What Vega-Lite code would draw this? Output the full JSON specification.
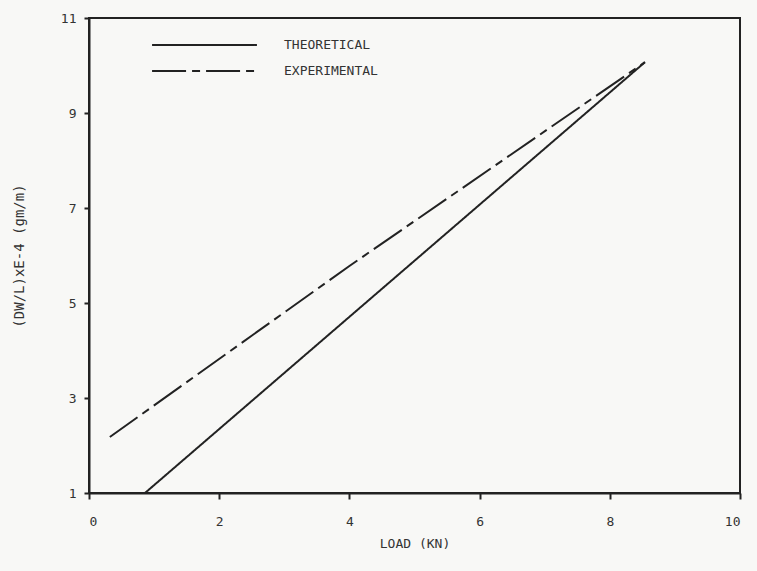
{
  "$schema": "https://vega.github.io/schema/vega-lite/v6.json",
  "width": 651,
  "height": 475,
  "autosize": "none",
  "padding": {"left": 89, "top": 18, "right": 17, "bottom": 78},
  "background": "#f8f8f6",
  "config": {
    "view": {"stroke": "#222", "strokeWidth": 2},
    "font": "DejaVu Sans Mono"
  },
  "data": {
    "values": [
      {"series": "THEORETICAL", "load": 0.86, "dw": 1.0},
      {"series": "THEORETICAL", "load": 8.54, "dw": 10.07},
      {"series": "EXPERIMENTAL", "load": 0.32, "dw": 2.18},
      {"series": "EXPERIMENTAL", "load": 4.0, "dw": 5.78},
      {"series": "EXPERIMENTAL", "load": 8.54, "dw": 10.07}
    ]
  },
  "mark": {"type": "line", "color": "#222", "strokeWidth": 2},
  "encoding": {
    "x": {
      "field": "load", "type": "quantitative",
      "scale": {"domain": [0, 10], "nice": false},
      "axis": {
        "title": "LOAD (KN)", "values": [0, 2, 4, 6, 8, 10], "grid": false,
        "domainColor": "#222", "domainWidth": 2, "tickColor": "#222", "tickWidth": 2,
        "tickSize": 6, "labelPadding": 16, "labelFontSize": 13, "labelColor": "#333",
        "titleFontSize": 13, "titleFontWeight": "normal", "titleColor": "#333", "titlePadding": 9
      }
    },
    "y": {
      "field": "dw", "type": "quantitative",
      "scale": {"domain": [1, 11], "nice": false, "zero": false},
      "axis": {
        "title": "(DW/L)xE-4 (gm/m)", "values": [1, 3, 5, 7, 9, 11], "grid": false,
        "domainColor": "#222", "domainWidth": 2, "tickColor": "#222", "tickWidth": 2,
        "tickSize": 5, "labelPadding": 8, "labelFontSize": 13, "labelColor": "#333",
        "titleFontSize": 14, "titleFontWeight": "normal", "titleColor": "#333", "titlePadding": 34
      }
    },
    "strokeDash": {
      "field": "series", "type": "nominal",
      "scale": {"domain": ["THEORETICAL", "EXPERIMENTAL"], "range": [[1, 0], [34, 6, 8, 6]]},
      "legend": {
        "title": null, "orient": "none", "legendX": 62, "legendY": 17,
        "symbolType": "stroke", "symbolSize": 11000, "symbolStrokeWidth": 2,
        "symbolStrokeColor": "#222", "labelFontSize": 13, "labelColor": "#333",
        "clipHeight": 20, "rowPadding": 6, "labelOffset": 26
      }
    }
  }
}
